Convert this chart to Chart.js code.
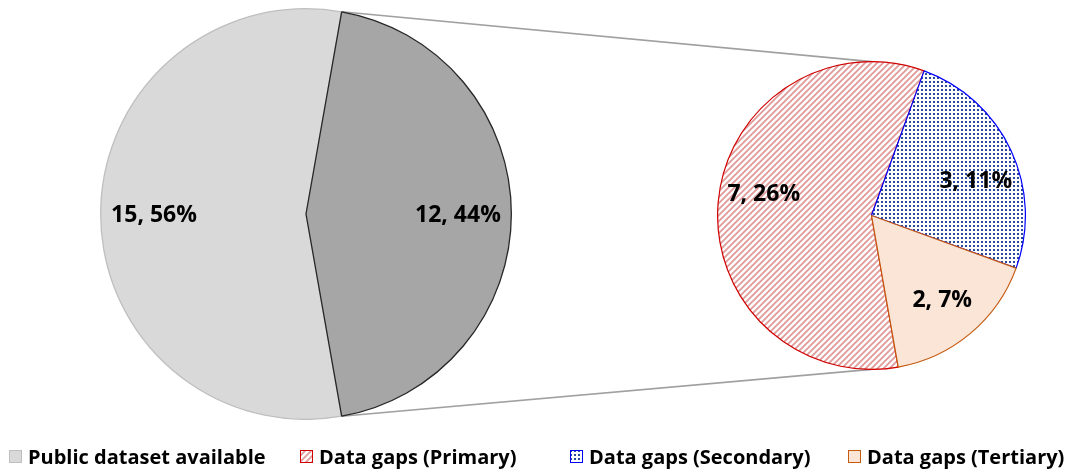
<!DOCTYPE html>
<html>
<head>
<meta charset="utf-8">
<script src="https://cdn.jsdelivr.net/npm/chart.js@4.4.1/dist/chart.umd.min.js"></script>
<style>
  html, body { margin: 0; padding: 0; background: #ffffff; }
  #stage { position: relative; width: 1081px; height: 469px; overflow: hidden; font-family: "Open Sans", Lato, sans-serif; }
  #links { position: absolute; left: 0; top: 0; }
  #mainPie { position: absolute; left: 100px; top: 8px; }
  #gapPie { position: absolute; left: 717px; top: 61px; }
  .item { position: absolute; top: 443px; display: flex; align-items: center; font-weight: 700; font-size: 20px; color: #000; white-space: nowrap; }
  .item canvas { margin-right: 6px; }
</style>
</head>
<body>
<div id="stage">
  <canvas id="links" width="1081" height="469"></canvas>
  <canvas id="mainPie" width="412" height="412"></canvas>
  <canvas id="gapPie" width="309" height="309"></canvas>
  <div class="item" style="left:9px"><canvas id="sw0" width="13" height="13"></canvas>Public dataset available</div>
  <div class="item" style="left:300px"><canvas id="sw1" width="13" height="13"></canvas>Data gaps (Primary)</div>
  <div class="item" style="left:570px"><canvas id="sw2" width="13" height="13"></canvas>Data gaps (Secondary)</div>
  <div class="item" style="left:848px"><canvas id="sw3" width="13" height="13"></canvas>Data gaps (Tertiary)</div>
</div>
<script>
// Main split: datasets with a public release vs. those with gaps
const mainCategories = ['Public dataset available', 'Data gaps'];
const mainValues = [15, 12];

// Breakdown of the data-gap slice
const gapCategories = ['Data gaps (Primary)', 'Data gaps (Secondary)', 'Data gaps (Tertiary)'];
const gapValues = [7, 3, 2];

const total = mainValues.reduce((a, b) => a + b, 0);

// Fill patterns
function stripePattern() {
  const c = document.createElement('canvas');
  c.width = 6; c.height = 6;
  const g = c.getContext('2d');
  g.fillStyle = '#ffffff';
  g.fillRect(0, 0, 6, 6);
  g.strokeStyle = '#e09c9c';
  g.lineWidth = 1.9;
  g.beginPath();
  g.moveTo(-1, 7); g.lineTo(7, -1);
  g.moveTo(-1, 1); g.lineTo(1, -1);
  g.moveTo(5, 7); g.lineTo(7, 5);
  g.stroke();
  return g.createPattern(c, 'repeat');
}
function dotPattern() {
  const c = document.createElement('canvas');
  c.width = 4; c.height = 4;
  const g = c.getContext('2d');
  g.fillStyle = '#ffffff';
  g.fillRect(0, 0, 4, 4);
  g.fillStyle = '#29499a';
  g.fillRect(0, 0, 2, 2);
  return g.createPattern(c, 'repeat');
}

const mainFill = ['#d9d9d9', '#a6a6a6'];
const mainBorder = ['#bfbfbf', '#262626'];
const gapFill = [stripePattern(), dotPattern(), '#fbe5d6'];
const gapBorder = ['#d00000', '#0000ff', '#c55a11'];

// Rotate so the gap slice is centred on the right-hand side
const gapShare = mainValues[1] / total * 360;
const startRotation = 90 + gapShare / 2;

// Value/percent labels; angleShift (degrees) nudges a label along its slice
function valueLabels(radiusFactor, angleShift) {
  return {
    id: 'valueLabels',
    afterDatasetsDraw(chart) {
      const ctx = chart.ctx;
      const meta = chart.getDatasetMeta(0);
      const values = chart.data.datasets[0].data;
      ctx.save();
      ctx.font = '700 23px "Open Sans", Lato, sans-serif';
      ctx.fillStyle = '#000000';
      ctx.textAlign = 'center';
      ctx.textBaseline = 'middle';
      meta.data.forEach((arc, i) => {
        const mid = (arc.startAngle + arc.endAngle) / 2 + (angleShift[i] || 0) * Math.PI / 180;
        const r = arc.outerRadius * radiusFactor;
        const pct = Math.round(values[i] / total * 100);
        ctx.fillText(values[i] + ', ' + pct + '%', arc.x + Math.cos(mid) * r, arc.y + Math.sin(mid) * r + 1);
      });
      ctx.restore();
    }
  };
}

const common = {
  responsive: false,
  animation: false,
  rotation: startRotation,
  layout: { padding: 0 },
  plugins: { legend: { display: false }, tooltip: { enabled: false } }
};

const mainChart = new Chart(document.getElementById('mainPie'), {
  type: 'pie',
  data: {
    labels: mainCategories,
    datasets: [{ data: mainValues, backgroundColor: mainFill, borderColor: mainBorder, borderWidth: 1.3 }]
  },
  options: common,
  plugins: [valueLabels(0.74, [0, 0])]
});

const gapChart = new Chart(document.getElementById('gapPie'), {
  type: 'pie',
  data: {
    labels: gapCategories,
    datasets: [{ data: gapValues, backgroundColor: gapFill, borderColor: gapBorder, borderWidth: 1.2 }]
  },
  options: common,
  plugins: [valueLabels(0.715, [6.8, 6.4, 0])]
});

// Connector lines from the gap slice edges to the top and bottom of the breakdown pie
(function drawLinks() {
  const g = document.getElementById('links').getContext('2d');
  const mainEl = document.getElementById('mainPie');
  const gapEl = document.getElementById('gapPie');
  const arc = mainChart.getDatasetMeta(0).data[1];
  const sub = gapChart.getDatasetMeta(0).data[0];
  const ox = mainEl.offsetLeft, oy = mainEl.offsetTop;
  const sx = gapEl.offsetLeft, sy = gapEl.offsetTop;
  const p1 = [ox + arc.x + Math.cos(arc.startAngle) * arc.outerRadius, oy + arc.y + Math.sin(arc.startAngle) * arc.outerRadius];
  const p2 = [ox + arc.x + Math.cos(arc.endAngle) * arc.outerRadius, oy + arc.y + Math.sin(arc.endAngle) * arc.outerRadius];
  const q1 = [sx + sub.x, sy + sub.y - sub.outerRadius];
  const q2 = [sx + sub.x, sy + sub.y + sub.outerRadius];
  g.strokeStyle = '#a0a0a0';
  g.lineWidth = 1.6;
  g.beginPath();
  g.moveTo(p1[0], p1[1]); g.lineTo(q1[0], q1[1]);
  g.moveTo(p2[0], p2[1]); g.lineTo(q2[0], q2[1]);
  g.stroke();
})();

// Legend swatches
const swatchFills = [mainFill[0], gapFill[0], gapFill[1], gapFill[2]];
const swatchBorders = [mainBorder[0], gapBorder[0], gapBorder[1], gapBorder[2]];
swatchFills.forEach((fill, i) => {
  const g = document.getElementById('sw' + i).getContext('2d');
  g.fillStyle = fill;
  g.fillRect(0.5, 0.5, 12, 12);
  g.strokeStyle = swatchBorders[i];
  g.lineWidth = 1;
  g.strokeRect(0.5, 0.5, 12, 12);
});
</script>
</body>
</html>
